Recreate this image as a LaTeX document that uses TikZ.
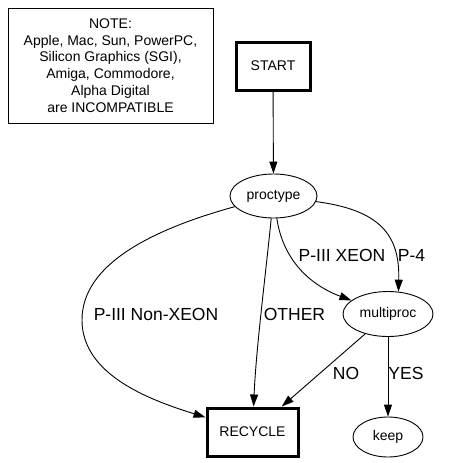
\documentclass[tikz,border=0pt]{standalone}
\usepackage{fontspec}
\setmainfont{Liberation Sans}
\usepackage{tikz}
\usetikzlibrary{arrows.meta, shapes.geometric}

\begin{document}
\begin{tikzpicture}[x=1pt, y=-1pt,
    nodefont/.style={font=\fontsize{14}{16.7}\selectfont},
    heavybox/.style={rectangle, draw, line width=3pt, inner sep=0pt,
      nodefont},
    oval/.style={ellipse, draw, line width=0.9pt, inner sep=0pt, nodefont},
    notebox/.style={rectangle, draw, line width=0.9pt, align=center,
      minimum width=205pt, minimum height=115pt, inner sep=0pt, nodefont},
    lbl/.style={inner sep=0pt, font=\fontsize{17.5}{20}\selectfont},
    edge/.style={line width=0.9pt, -{Triangle[length=12pt, width=8pt]}}]
  \useasboundingbox (0,0) rectangle (455,463);
  % nodes
  \node[notebox] (note) at (110.5,65.5) {NOTE:\\Apple, Mac, Sun, PowerPC,\\
    Silicon Graphics (SGI),\\Amiga, Commodore,\\Alpha Digital\\
    are INCOMPATIBLE};
  \node[heavybox, minimum width=74pt, minimum height=48pt] (start) at (273,66) {START};
  \node[oval, minimum width=87pt, minimum height=44pt] (proctype) at (273.5,196) {proctype};
  \node[oval, minimum width=90pt, minimum height=45pt] (multiproc) at (388,314) {multiproc};
  \node[heavybox, minimum width=91pt, minimum height=48pt] (recycle) at (252.5,432) {RECYCLE};
  \node[oval, minimum width=70pt, minimum height=40pt] (keep) at (388,437) {keep};
  % edges
  \draw[edge] (start) -- (proctype);
  \draw[edge] (proctype) .. controls (150,230) and (82,265) .. (82,320)
    .. controls (82,375) and (150,400) .. (recycle);
  \draw[edge] (proctype) .. controls (265,280) and (256,350) .. (recycle);
  \draw[edge] (proctype) .. controls (283,260) and (310,285) .. (multiproc);
  \draw[edge] (proctype) .. controls (380,210) and (400,235) .. (multiproc.65);
  \draw[edge] (multiproc) -- (recycle);
  \draw[edge] (multiproc) -- (keep);
  % edge labels
  \node[lbl] (nonxeon) at (156,314.5) {P-III Non-XEON};
  \node[lbl] (other) at (294.5,314.5) {OTHER};
  \node[lbl] (xeon) at (342,255.5) {P-III XEON};
  \node[lbl] (pfour) at (411.5,255.5) {P-4};
  \node[lbl] (no) at (346,373.5) {NO};
  \node[lbl] (yes) at (406,373.5) {YES};
\end{tikzpicture}
\end{document}
